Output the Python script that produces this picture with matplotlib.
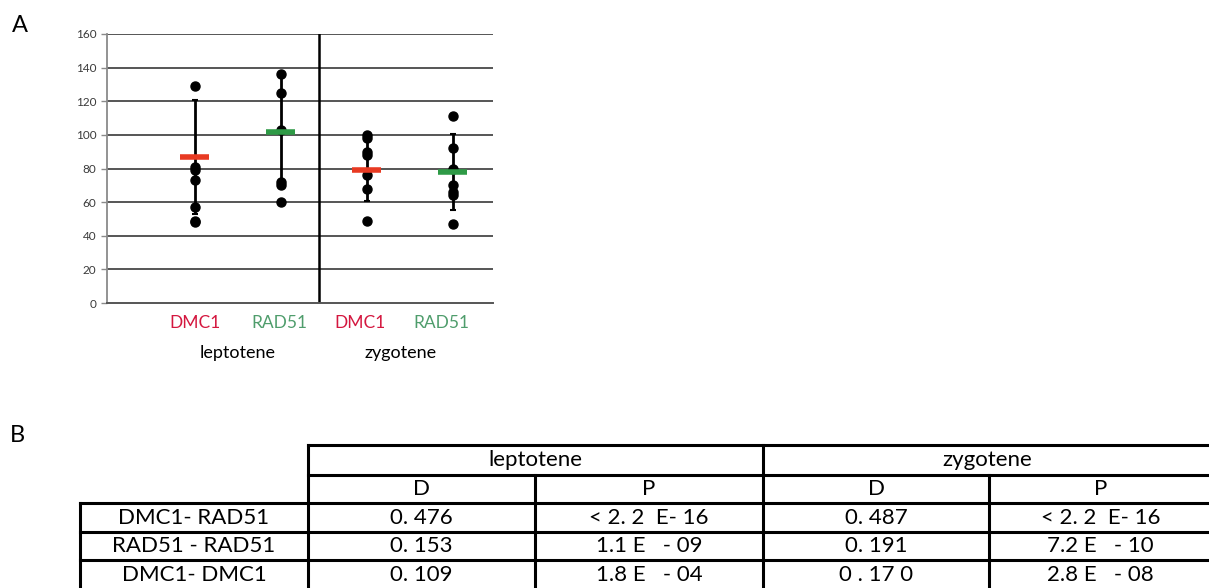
import matplotlib.pyplot as plt
import numpy as np

plt.rcParams['font.family'] = ['Lato', 'DejaVu Sans']

# foci counts per nucleus
stages = ['leptotene', 'zygotene']
proteins = ['DMC1', 'RAD51', 'DMC1', 'RAD51']
counts = [
    [129, 81, 79, 73, 57, 49, 48],      # DMC1 leptotene
    [136, 125, 103, 72, 70, 60],        # RAD51 leptotene
    [100, 98, 90, 88, 76, 68, 49],      # DMC1 zygotene
    [111, 92, 80, 70, 66, 64, 47],      # RAD51 zygotene
]
means = [87, 102, 79, 78]
sds = [34, 33, 18.5, 22.5]

# KS test table
row_names = ['DMC1- RAD51', 'RAD51 - RAD51', 'DMC1- DMC1']
lept_D = ['0. 476', '0. 153', '0. 109']
lept_P = ['< 2. 2  E- 16', '1.1 E   - 09', '1.8 E   - 04']
zyg_D = ['0. 487', '0. 191', '0 . 17 0']
zyg_P = ['< 2. 2  E- 16', '7.2 E   - 10', '2.8 E   - 08']

RED = '#e83a22'
GREEN = '#2e9a46'
LBL_RED = '#d4173f'
LBL_GREEN = '#4f9d6c'

W, H = 1209, 588
fig = plt.figure(figsize=(W / 100, H / 100), dpi=100)

# ---- panel A ----
ax = fig.add_axes([107 / W, 1 - 303 / H, (493 - 107) / W, (303 - 34) / H])
xpos = np.arange(1, 5)
ax.set_xlim(-0.02, 4.47)
ax.set_ylim(0, 160)
ax.set_yticks(np.arange(0, 161, 20))
for v in np.arange(20, 161, 20):
    ax.axhline(v, color='#555555', lw=1.4, zorder=1)
for s in ['top', 'right']:
    ax.spines[s].set_visible(False)
ax.spines['left'].set_color('#8a8a8a')
ax.spines['bottom'].set_color('#555555')
ax.spines['left'].set_linewidth(1.3)
ax.spines['bottom'].set_linewidth(1.4)
ax.tick_params(axis='y', labelsize=8.5, colors='#8a8a8a', labelcolor='#3a3a3a',
               length=4, width=1)
ax.set_xticks([])
ax.axvline(2.45, color='black', lw=1.8, zorder=2)

for i, x in enumerate(xpos):
    ax.errorbar(x, means[i], yerr=sds[i], fmt='none', ecolor='black',
                elinewidth=2, capsize=2.5, capthick=1.5, zorder=3)
    ax.plot(np.full(len(counts[i]), x), counts[i], 'o', color='black',
            markersize=6.5, zorder=4)
    col = RED if proteins[i] == 'DMC1' else GREEN
    ax.plot([x - 0.17, x + 0.17], [means[i], means[i]], color=col, lw=4,
            solid_capstyle='butt', zorder=5)

lbl_x = [1.0, 1.99, 2.92, 3.87]
for i, x in enumerate(lbl_x):
    col = LBL_RED if proteins[i] == 'DMC1' else LBL_GREEN
    ax.text(x, -12, proteins[i], color=col, fontsize=12.5, ha='center', va='center')
for j, st in enumerate(stages):
    ax.text((lbl_x[2 * j] + lbl_x[2 * j + 1]) / 2, -29.5, st, color='black',
            fontsize=13, ha='center', va='center')

fig.text(20 / W, 1 - 25 / H, 'A', fontsize=17, ha='center', va='center')

# ---- panel B: table drawn in pixel coordinates ----
tb = fig.add_axes([0, 0, 1, 1])
tb.set_xlim(0, W)
tb.set_ylim(H, 0)
tb.axis('off')
tb.text(17, 435, 'B', fontsize=17, ha='center', va='center')

lw = 2.2
xs = [80, 308, 535, 763, 989, 1212]
ys = [445, 475, 503, 532, 560, 590]
tb.plot([xs[1], xs[5]], [ys[0], ys[0]], color='black', lw=lw)
tb.plot([xs[1], xs[5]], [ys[1], ys[1]], color='black', lw=lw)
for y in ys[2:5]:
    tb.plot([xs[0], xs[5]], [y, y], color='black', lw=lw)
tb.plot([xs[0], xs[0]], [ys[2], H + 5], color='black', lw=lw)
for x in [xs[1], xs[3]]:
    tb.plot([x, x], [ys[0], H + 5], color='black', lw=lw)
for x in [xs[2], xs[4]]:
    tb.plot([x, x], [ys[1], H + 5], color='black', lw=lw)

fs = 16
tb.text((xs[1] + xs[3]) / 2, (ys[0] + ys[1]) / 2, stages[0], fontsize=fs,
        ha='center', va='center')
tb.text((xs[3] + xs[5]) / 2, (ys[0] + ys[1]) / 2, stages[1], fontsize=fs,
        ha='center', va='center')
for k, lab in enumerate(['D', 'P', 'D', 'P']):
    tb.text((xs[k + 1] + xs[k + 2]) / 2, (ys[1] + ys[2]) / 2, lab, fontsize=fs,
            ha='center', va='center')
for r in range(3):
    yc = (ys[r + 2] + ys[r + 3]) / 2
    cells = [row_names[r], lept_D[r], lept_P[r], zyg_D[r], zyg_P[r]]
    for k, txt in enumerate(cells):
        tb.text((xs[k] + xs[k + 1]) / 2, yc, txt, fontsize=fs,
                ha='center', va='center')

fig.savefig('out.png', dpi=100)
